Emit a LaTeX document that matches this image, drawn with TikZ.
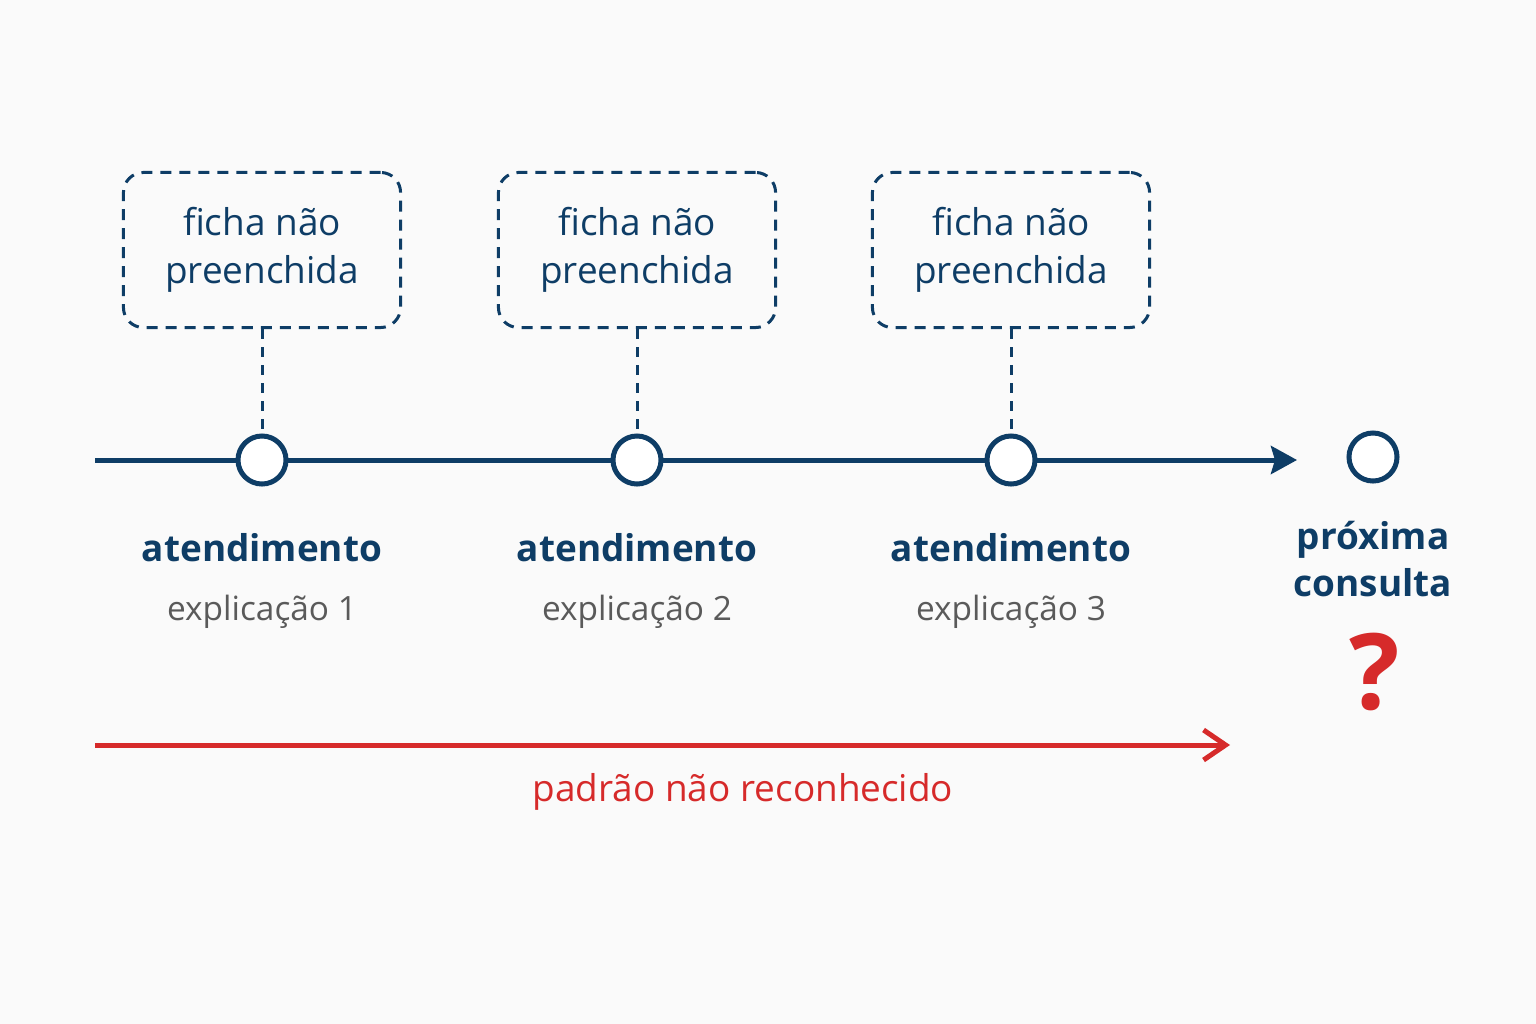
\documentclass[tikz,border=0pt]{standalone}
\usepackage{fontspec}
\setmainfont{Open Sans}
\usetikzlibrary{arrows.meta}
\definecolor{navy}{HTML}{0E3D66}
\definecolor{alert}{HTML}{D62A2A}
\definecolor{note}{HTML}{5A5A5A}
\tikzset{ stop/.style = { circle % visit
        , draw = navy
        , line width = 0.5mm
        , fill = white
        , minimum size = 4.8mm
        , inner sep = 0pt
        }
        , gap/.style = { rectangle % missing record
        , draw = navy
        , line width = 0.3mm
        , dash pattern = on 1.1mm off 0.8mm
        , rounded corners = 2mm
        , minimum width = 2.77cm
        , minimum height = 1.55cm
        , align = center
        , text = navy
        , font = \fontsize{10.5}{13.5}\selectfont
        }
        }
\begin{document}
\begin{tikzpicture}[x=0.01cm, y=-0.01cm,
        visit_style/.style={text=navy,font=\fontsize{10.5}{13}\selectfont\bfseries},
        text_style/.style={text=note,font=\fontsize{9.5}{12}\selectfont},
        link_style/.style={draw=navy, line width=0.3mm, dash pattern=on 1mm off 0.8mm}]
        \useasboundingbox (0,0) rectangle (1536,1024);
        \fill [white!98!black] (0,0) rectangle (1536,1024);

        \coordinate (t0) at (95,460);
        \coordinate (t1) at (1297,460);
        \draw [navy, line width=0.5mm, -{Stealth[length=2.6mm,width=2.8mm,inset=0.4mm]}] (t0) -- (t1);

        \foreach \i/\x in {1/262, 2/637, 3/1011} {
            \node [gap] (g\i) at (\x,250) {ficha não\\preenchida};
            \node [stop] (s\i) at (\x,460) {};
            \draw [link_style] (g\i) -- (s\i);
            \node [visit_style] (a\i) at (\x,548) {atendimento};
            \node [text_style] (e\i) at (\x,612) {explicação \i};
        }

        \node [stop] (s4) at (1373,457) {};
        \node [visit_style, align=center, font=\fontsize{10.5}{13.5}\selectfont\bfseries] (nx) at (1373,559) {próxima\\consulta};
        \node [text=alert, font=\fontsize{30}{32}\selectfont\bfseries] (q) at (1375,672) {?};

        \coordinate (r0) at (95,745);
        \coordinate (r1) at (1230,745);
        \draw [alert, line width=0.5mm, -{Straight Barb[length=2.2mm,width=3mm]}] (r0) -- (r1);
        \node [text=alert, font=\fontsize{10.5}{13}\selectfont] (pd) at (743,792) {padrão não reconhecido};
\end{tikzpicture}
\end{document}
